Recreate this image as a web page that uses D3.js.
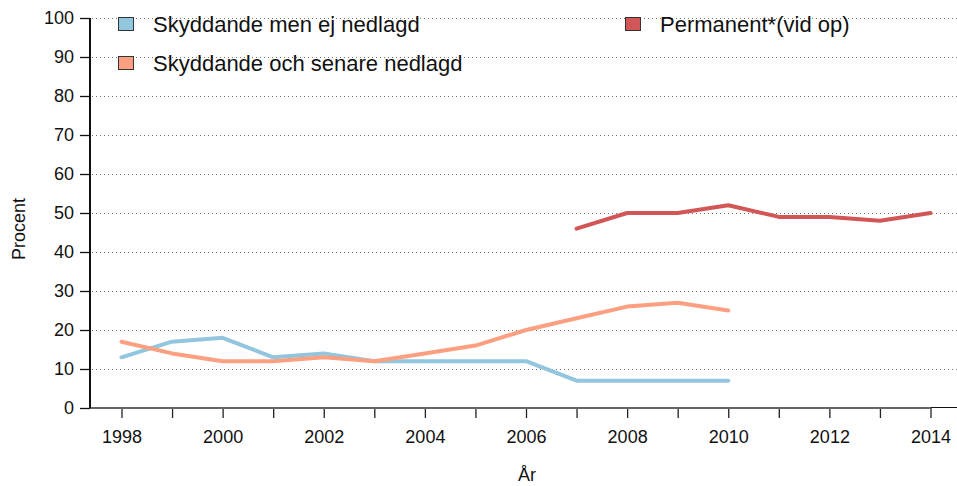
<!DOCTYPE html>
<html>
<head>
<meta charset="utf-8">
<script src="https://cdn.jsdelivr.net/npm/d3@7"></script>
<style>
  body { margin: 0; background: #fff; }
  svg { display: block; font-family: "Liberation Sans", Arial, sans-serif; }
</style>
</head>
<body>
<div id="chart"></div>
<script>
// Data
const years = d3.range(1998, 2015);
const labeledYears = [1998, 2000, 2002, 2004, 2006, 2008, 2010, 2012, 2014];
const yTicks = d3.range(0, 101, 10);

const ejNedlagd = [
  [1998, 13], [1999, 17], [2000, 18], [2001, 13], [2002, 14], [2003, 12],
  [2004, 12], [2005, 12], [2006, 12], [2007, 7], [2008, 7], [2009, 7], [2010, 7]
];
const senareNedlagd = [
  [1998, 17], [1999, 14], [2000, 12], [2001, 12], [2002, 13], [2003, 12],
  [2004, 14], [2005, 16], [2006, 20], [2007, 23], [2008, 26], [2009, 27], [2010, 25]
];
const permanent = [
  [2007, 46], [2008, 50], [2009, 50], [2010, 52], [2011, 49], [2012, 49],
  [2013, 48], [2014, 50]
];

const series = [
  { name: "Skyddande men ej nedlagd", color: "#92c5de", values: ejNedlagd },
  { name: "Skyddande och senare nedlagd", color: "#fca081", values: senareNedlagd },
  { name: "Permanent*(vid op)", color: "#d35656", values: permanent }
];

const width = 957, height = 486;
const x = d3.scaleLinear().domain([1998, 2014]).range([121.5, 930.5]);
const y = d3.scaleLinear().domain([0, 100]).range([408, 18]);
const axisX = 90;

const svg = d3.select("#chart").append("svg")
  .attr("width", width)
  .attr("height", height);

// dotted grid lines
svg.append("g")
  .selectAll("line")
  .data(yTicks.filter(t => t > 0))
  .join("line")
  .attr("x1", axisX + 2)
  .attr("x2", width)
  .attr("y1", d => Math.round(y(d)) + 0.5)
  .attr("y2", d => Math.round(y(d)) + 0.5)
  .attr("stroke", "#777")
  .attr("stroke-width", 1)
  .attr("stroke-dasharray", "1,3");

// x axis (grey baseline + ticks)
const xAxis = svg.append("g")
  .attr("transform", `translate(0,${y(0)})`)
  .call(d3.axisBottom(x)
    .tickValues(years)
    .tickSize(10)
    .tickFormat(d => labeledYears.includes(d) ? d : ""));
xAxis.select(".domain").remove();
xAxis.selectAll(".tick line").attr("stroke", "#222").attr("stroke-width", 1.3);
xAxis.selectAll(".tick text")
  .attr("y", 22)
  .attr("font-size", 18)
  .attr("fill", "#111")
  .attr("font-family", "Liberation Sans, Arial, sans-serif");
xAxis.append("line")
  .attr("x1", axisX).attr("x2", x(2014))
  .attr("stroke", "#666").attr("stroke-width", 2);
xAxis.append("line")
  .attr("x1", x(2014)).attr("x2", width)
  .attr("y1", -0.5).attr("y2", -0.5)
  .attr("stroke", "#111").attr("stroke-width", 1);

// y axis
const yAxis = svg.append("g")
  .attr("transform", `translate(${axisX},0)`)
  .call(d3.axisLeft(y).tickValues(yTicks).tickSize(10).tickFormat(d3.format("d")));
yAxis.select(".domain")
  .attr("d", `M0,${y(0)}V${y(100)}`)
  .attr("stroke", "#111").attr("stroke-width", 2);
yAxis.selectAll(".tick line").attr("stroke", "#111").attr("stroke-width", 1.3);
yAxis.selectAll(".tick text")
  .attr("x", -16)
  .attr("font-size", 18)
  .attr("fill", "#111")
  .attr("font-family", "Liberation Sans, Arial, sans-serif");

// axis titles
svg.append("text")
  .attr("transform", `translate(25,${(y(0) + y(100)) / 2 + 16}) rotate(-90)`)
  .attr("text-anchor", "middle")
  .attr("font-size", 18)
  .attr("fill", "#111")
  .text("Procent");

svg.append("text")
  .attr("x", 527)
  .attr("y", 481)
  .attr("text-anchor", "middle")
  .attr("font-size", 18)
  .attr("fill", "#111")
  .text("År");

// lines
const line = d3.line()
  .x(d => x(d[0]))
  .y(d => y(d[1]));

svg.append("g")
  .selectAll("path")
  .data(series)
  .join("path")
  .attr("d", d => line(d.values))
  .attr("fill", "none")
  .attr("stroke", d => d.color)
  .attr("stroke-width", 4)
  .attr("stroke-linejoin", "round")
  .attr("stroke-linecap", "round");

// legend
const legendPos = [
  { x: 118, y: 24 },
  { x: 118, y: 63 },
  { x: 625, y: 24 }
];
const legend = svg.append("g")
  .selectAll("g")
  .data(series)
  .join("g")
  .attr("transform", (d, i) => `translate(${legendPos[i].x},${legendPos[i].y})`);

legend.append("rect")
  .attr("x", 0.5)
  .attr("y", -6.5)
  .attr("width", 15)
  .attr("height", 13)
  .attr("fill", d => d.color)
  .attr("stroke", "#333")
  .attr("stroke-width", 1);

legend.append("text")
  .attr("x", 35)
  .attr("y", 8)
  .attr("font-size", 22)
  .attr("fill", "#111")
  .text(d => d.name);
</script>
</body>
</html>
